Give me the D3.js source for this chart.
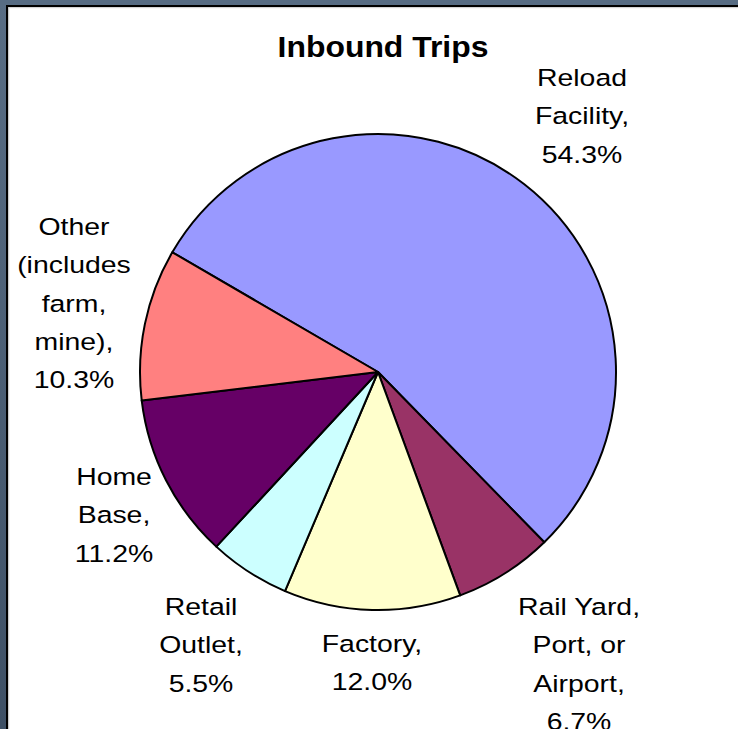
<!DOCTYPE html>
<html>
<head>
<meta charset="utf-8">
<script src="https://cdn.jsdelivr.net/npm/d3@7/dist/d3.min.js"></script>
<style>
  html, body { margin: 0; padding: 0; background: #fff; }
  svg { display: block; }
  text { font-family: "Liberation Sans", Arial, sans-serif; fill: #000; }
</style>
</head>
<body>
<svg id="chart" width="738" height="729"></svg>
<script>
// Inbound trip origins, share of trips (%)
const categories = ["Reload Facility", "Rail Yard, Port, or Airport", "Factory", "Retail Outlet", "Home Base", "Other (includes farm, mine)"];
const shares = [54.3, 6.7, 12.0, 5.5, 11.2, 10.3];
const colors = ["#9999FF", "#993366", "#FFFFCC", "#CCFFFF", "#660066", "#FF8080"];
// Label text, broken into lines as drawn
const labelLines = [
  ["Reload", "Facility,", "54.3%"],
  ["Rail Yard,", "Port, or", "Airport,", "6.7%"],
  ["Factory,", "12.0%"],
  ["Retail", "Outlet,", "5.5%"],
  ["Home", "Base,", "11.2%"],
  ["Other", "(includes", "farm,", "mine),", "10.3%"]
];
const title = "Inbound Trips";

const W = 738, H = 729;
const svg = d3.select("#chart");

// Frame: slate band with black rule on the top and left edges
const defs = svg.append("defs");
const grad = defs.append("linearGradient").attr("id", "band").attr("x1", 0).attr("y1", 0).attr("x2", 0).attr("y2", 1);
grad.append("stop").attr("offset", "0%").attr("stop-color", "#586d84");
grad.append("stop").attr("offset", "100%").attr("stop-color", "#3e5065");
svg.append("rect").attr("x", 0).attr("y", 0).attr("width", 6).attr("height", H).attr("fill", "url(#band)");
svg.append("rect").attr("x", 0).attr("y", 0).attr("width", W).attr("height", 5).attr("fill", "#576c83");
svg.append("rect").attr("x", 6).attr("y", 5).attr("width", 2.3).attr("height", H).attr("fill", "#000");
svg.append("rect").attr("x", 6).attr("y", 5).attr("width", W).attr("height", 2.2).attr("fill", "#000");
svg.append("rect").attr("x", 8.3).attr("y", 7.2).attr("width", 1).attr("height", H).attr("fill", "#d8d8d8");
svg.append("rect").attr("x", 8.3).attr("y", 7.2).attr("width", W).attr("height", 1).attr("fill", "#d8d8d8");

// Title
svg.append("text")
  .attr("transform", "translate(383,57) scale(1.1,1)")
  .attr("text-anchor", "middle")
  .style("font-weight", "bold")
  .style("font-size", "29px")
  .text(title);

// Pie
const cx = 378, cy = 372, R = 238;
const start = -59.8 * Math.PI / 180;
const pie = d3.pie().sort(null).value(d => d).startAngle(start).endAngle(start + 2 * Math.PI);
const arc = d3.arc().innerRadius(0).outerRadius(R);
const arcs = pie(shares);

const g = svg.append("g").attr("transform", `translate(${cx},${cy})`);
g.selectAll("path.slice")
  .data(arcs)
  .join("path")
  .attr("class", "slice")
  .attr("d", arc)
  .attr("fill", (d, i) => colors[i])
  .attr("stroke", "#000")
  .attr("stroke-width", 2)
  .attr("stroke-linejoin", "round");

// Data labels: centre x and first baseline of each label block
const labelPos = [
  [582, 86],
  [579, 615],
  [372, 652],
  [201, 615],
  [114, 485],
  [74, 235]
];
const lineStep = 38.3;
const labels = svg.append("g").attr("class", "labels");
labelLines.forEach((lines, i) => {
  const [lx, ly] = labelPos[i];
  lines.forEach((t, j) => {
    labels.append("text")
      .attr("transform", `translate(${lx},${ly + j * lineStep}) scale(1.16,1)`)
      .attr("text-anchor", "middle")
      .style("font-size", "24.5px")
      .text(t);
  });
});
</script>
</body>
</html>
